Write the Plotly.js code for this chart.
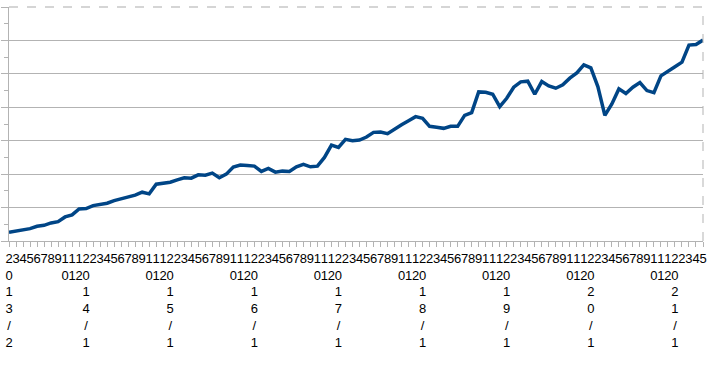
<!DOCTYPE html>
<html>
<head>
<meta charset="utf-8">
<script src="https://cdn.plot.ly/plotly-3.0.1.min.js"></script>
<style>html,body{margin:0;padding:0;background:#fff;}#chart{width:710px;height:370px;}</style>
</head>
<body>
<div id="chart"></div>
<script>
const periods = [
"2013/2","2013/3","2013/4","2013/5","2013/6","2013/7","2013/8","2013/9","2013/10","2013/11","2013/12",
"2014/1","2014/2","2014/3","2014/4","2014/5","2014/6","2014/7","2014/8","2014/9","2014/10","2014/11","2014/12",
"2015/1","2015/2","2015/3","2015/4","2015/5","2015/6","2015/7","2015/8","2015/9","2015/10","2015/11","2015/12",
"2016/1","2016/2","2016/3","2016/4","2016/5","2016/6","2016/7","2016/8","2016/9","2016/10","2016/11","2016/12",
"2017/1","2017/2","2017/3","2017/4","2017/5","2017/6","2017/7","2017/8","2017/9","2017/10","2017/11","2017/12",
"2018/1","2018/2","2018/3","2018/4","2018/5","2018/6","2018/7","2018/8","2018/9","2018/10","2018/11","2018/12",
"2019/1","2019/2","2019/3","2019/4","2019/5","2019/6","2019/7","2019/8","2019/9","2019/10","2019/11","2019/12",
"2020/1","2020/2","2020/3","2020/4","2020/5","2020/6","2020/7","2020/8","2020/9","2020/10","2020/11","2020/12",
"2021/1","2021/2","2021/3","2021/4","2021/5"
];
const tickLabels = [
"2013/2","3","4","5","6","7","8","9","10","11","12",
"2014/1","2","3","4","5","6","7","8","9","10","11","12",
"2015/1","2","3","4","5","6","7","8","9","10","11","12",
"2016/1","2","3","4","5","6","7","8","9","10","11","12",
"2017/1","2","3","4","5","6","7","8","9","10","11","12",
"2018/1","2","3","4","5","6","7","8","9","10","11","12",
"2019/1","2","3","4","5","6","7","8","9","10","11","12",
"2020/1","2","3","4","5","6","7","8","9","10","11","12",
"2021/1","2","3","4","5"
];
const values = [
2.6,3.0,3.3,3.7,4.4,4.7,5.4,5.8,7.2,7.8,
9.6,9.7,10.6,10.9,11.3,12.1,12.6,13.3,13.7,14.6,
14.1,17.0,17.3,17.6,18.3,18.9,18.8,19.8,19.7,20.3,
18.9,20.0,22.1,22.7,22.6,22.4,20.8,21.7,20.6,20.9,
20.8,22.2,22.9,22.2,22.4,25.0,28.7,28.0,30.4,30.0,
30.2,31.1,32.5,32.6,32.1,33.6,34.8,36.0,37.2,36.7,
34.3,34.0,33.7,34.3,34.3,37.6,38.4,44.6,44.5,43.9,
40.2,42.7,46.0,47.6,47.8,43.9,47.7,46.4,45.7,46.7,
48.7,50.3,52.7,51.8,46.2,37.6,41.0,45.5,44.1,46.0,
47.4,45.0,44.4,49.4,50.9,52.1,53.5,58.6,58.8,60.1
];

// Narrow category slots: the labels wrap one character per line
const stacked = tickLabels.map(s => s.split('').join('<br>'));
const axisGrey = '#b3b3b3';

const trace = {
  x: periods,
  y: values,
  type: 'scatter',
  mode: 'lines',
  line: {color: '#004586', width: 3.5},
  hoverinfo: 'x+y'
};

const layout = {
  width: 710, height: 370,
  margin: {l: 9, r: 7, t: 7, b: 129, pad: 0},
  paper_bgcolor: '#ffffff', plot_bgcolor: '#ffffff',
  showlegend: false,
  font: {family: '"Liberation Sans", Arial, sans-serif', color: '#000'},
  xaxis: {
    type: 'category', range: [0, periods.length - 1],
    tickmode: 'array', tickvals: periods, ticktext: stacked,
    tickangle: 0, ticks: 'outside', ticklen: 5, tickcolor: axisGrey, tickwidth: 1,
    showline: true, linecolor: axisGrey, linewidth: 1,
    showgrid: false, zeroline: false, automargin: false,
    tickfont: {family: '"Liberation Sans", Arial, sans-serif', size: 13, color: '#000'}
  },
  yaxis: {
    range: [0, 70], tick0: 0, dtick: 10,
    showticklabels: false, ticks: 'outside', ticklen: 7, tickcolor: axisGrey, tickwidth: 1,
    showline: true, linecolor: axisGrey, linewidth: 1,
    showgrid: true, gridcolor: axisGrey, gridwidth: 1, zeroline: false, automargin: false,
    minor: {dtick: 5, ticks: 'outside', ticklen: 4, tickcolor: axisGrey, showgrid: false}
  },
  shapes: [
    {type: 'line', xref: 'paper', yref: 'paper', x0: 1, x1: 1, y0: 0, y1: 1,
     line: {color: axisGrey, width: 1, dash: 'dash'}},
    {type: 'line', xref: 'paper', yref: 'paper', x0: 0, x1: 1, y0: 1, y1: 1,
     line: {color: '#c8c8c8', width: 1.5, dash: 'dash'}}
  ]
};

Plotly.newPlot('chart', [trace], layout, {displayModeBar: false, staticPlot: true});
</script>
</body>
</html>
